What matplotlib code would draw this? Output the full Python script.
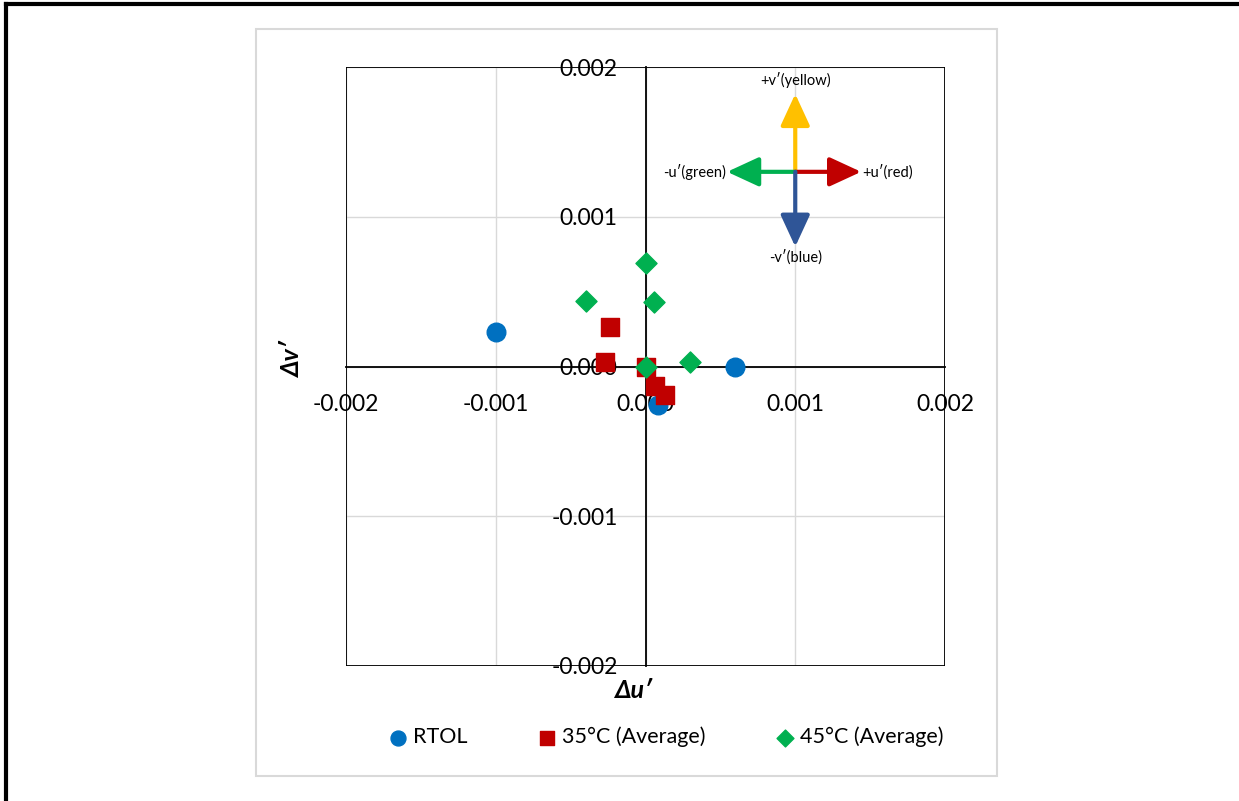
import matplotlib.pyplot as plt
from matplotlib.patches import Rectangle
from matplotlib.lines import Line2D
import numpy as np

plt.rcParams['font.family'] = ['Lato', 'DejaVu Sans']

# data
rtol_u = [-0.0010, 0.0006, 0.000083]
rtol_v = [0.000233, 0.0, -0.00026]

t35_u = [-0.000237, -0.00027, 0.0, 0.000063, 0.00013]
t35_v = [0.000267, 0.00003, 0.0, -0.000127, -0.00019]

t45_u = [-0.0004, 0.0, 0.00006, 0.0003, 0.0]
t45_v = [0.00044, 0.00069, 0.00043, 0.00003, 0.0]

ticks = [-0.002, -0.001, 0.0, 0.001, 0.002]
tick_labels = ["-0.002", "-0.001", "0.000", "0.001", "0.002"]

# direction key: origin and arrow ends
key_origin = (0.001, 0.0013)
key_arrows = [
    ((0.001, 0.00182), "#FFC000", "+v\u2032(yellow)"),
    ((0.00144, 0.0013), "#C00000", "+u\u2032(red)"),
    ((0.000545, 0.0013), "#00B050", "-u\u2032(green)"),
    ((0.001, 0.0008), "#2F5597", "-v\u2032(blue)"),
]

fig = plt.figure(figsize=(12.39, 8.01), dpi=100)

# outer frame (left and top only) and chart area border
fig.add_artist(Line2D([6 / 1239, 6 / 1239], [0, 1 - 4 / 801], color="black", lw=3))
fig.add_artist(Line2D([6 / 1239, 1], [1 - 4 / 801, 1 - 4 / 801], color="black", lw=3))
fig.add_artist(Rectangle((256 / 1239, 1 - 776 / 801), 741 / 1239, 747 / 801,
                         fill=False, edgecolor="#d9d9d9", lw=1.5))

ax = fig.add_axes([346 / 1239, 1 - 666 / 801, 599 / 1239, 599 / 801])
ax.set_xlim(-0.002, 0.002)
ax.set_ylim(-0.002, 0.002)

ax.spines["left"].set_position("zero")
ax.spines["bottom"].set_position("zero")
ax.spines["top"].set_visible(False)
ax.spines["right"].set_visible(False)
for s in ["left", "bottom"]:
    ax.spines[s].set_linewidth(1.3)
ax.add_patch(Rectangle((0, 0), 1, 1, transform=ax.transAxes, fill=False,
                       edgecolor="black", lw=1.3, zorder=3))

ax.set_xticks(ticks)
ax.set_xticklabels(tick_labels)
ax.set_yticks(ticks)
ax.set_yticklabels(tick_labels)
ax.tick_params(axis="both", length=0, labelsize=16.5)
ax.tick_params(axis="x", pad=20)
ax.tick_params(axis="y", pad=20)
for lab in ax.get_xticklabels() + ax.get_yticklabels():
    lab.set_zorder(6)
ax.grid(True, color="#d9d9d9", lw=1)
ax.set_axisbelow(True)

ax.scatter(rtol_u, rtol_v, s=180, marker="o", color="#0070C0", zorder=4, label="RTOL")
ax.scatter(t35_u, t35_v, s=180, marker="s", color="#C00000", zorder=4, label="35°C (Average)")
ax.scatter(t45_u, t45_v, s=115, marker="D", color="#00B050", zorder=4, label="45°C (Average)")

for end, col, txt in key_arrows:
    ax.annotate("", xy=end, xytext=key_origin,
                arrowprops=dict(arrowstyle="-|>,head_length=1.3,head_width=0.6",
                                color=col, lw=3, shrinkA=0, shrinkB=0,
                                mutation_scale=15), zorder=5)
    dx = end[0] - key_origin[0]
    dy = end[1] - key_origin[1]
    if dy > 0:
        ax.text(end[0], end[1] + 0.00004, txt, ha="center", va="bottom", fontsize=10.5)
    elif dy < 0:
        ax.text(end[0], end[1] - 0.00002, txt, ha="center", va="top", fontsize=10.5)
    elif dx > 0:
        ax.text(end[0] + 0.00001, end[1], txt, ha="left", va="center", fontsize=10.5)
    else:
        ax.text(end[0] - 0.00001, end[1], txt, ha="right", va="center", fontsize=10.5)

fig.text(633 / 1239, 1 - 690 / 801, "\u0394u\u2032", ha="center", va="center",
         fontsize=18, fontweight="bold", fontstyle="italic")
fig.text(293 / 1239, 1 - 360 / 801, "\u0394v\u2032", ha="center", va="center",
         fontsize=18, fontweight="bold", fontstyle="italic", rotation=90)

fig.legend(loc="center", bbox_to_anchor=(0.537, 1 - 737 / 801), ncol=3,
           frameon=False, fontsize=15.5, handletextpad=0.2, columnspacing=3.2,
           markerscale=0.8, handlelength=1.0)

fig.savefig("out.png", dpi=100)
